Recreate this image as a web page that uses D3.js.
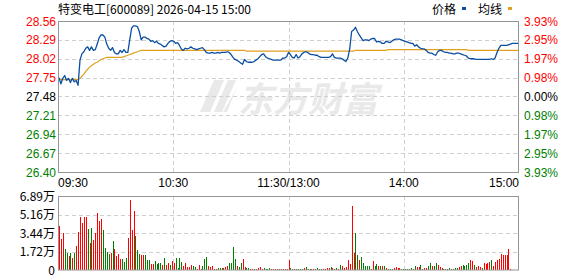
<!DOCTYPE html>
<html>
<head>
<meta charset="utf-8">
<script src="https://cdn.jsdelivr.net/npm/d3@7"></script>
<style>
  body { margin: 0; background: #fff; }
  svg text { font-family: "Liberation Sans", Arial, sans-serif; font-size: 12px; }
  svg text.cjk { font-family: "Noto Sans CJK SC", sans-serif; }
</style>
</head>
<body>
<div class="graphic"></div>
<script>
// minute prices, 09:30 .. 11:30 / 13:00 .. 15:00 (241 points)
var prices = [
  27.75,27.66,27.74,27.78,27.71,27.74,27.68,27.74,27.69,27.71,27.64,
  28.00,28.09,28.12,28.17,28.19,28.14,28.19,28.14,28.15,28.23,
  28.32,28.36,28.36,28.33,28.23,28.17,28.14,28.18,28.11,28.09,
  28.09,28.14,28.11,28.15,28.11,28.11,28.29,28.46,28.49,28.49,
  28.48,28.41,28.29,28.33,28.33,28.31,28.30,28.27,28.28,28.25,
  28.27,28.24,28.23,28.21,28.19,28.20,28.24,28.27,28.28,28.27,
  28.24,28.25,28.21,28.16,28.14,28.17,28.16,28.17,28.19,28.17,
  28.16,28.15,28.16,28.17,28.18,28.15,28.11,28.10,28.10,28.11,
  28.10,28.10,28.11,28.10,28.11,28.11,28.11,28.12,28.11,28.08,
  28.04,28.01,28.00,27.98,27.96,27.94,28.01,27.98,27.97,27.97,
  27.97,27.98,28.00,28.02,28.05,28.08,28.09,28.05,28.03,28.02,
  28.01,28.00,28.00,28.00,28.00,28.00,28.03,28.03,28.05,28.11,
  28.08,28.04,28.03,28.08,28.03,28.05,28.09,28.11,28.12,28.11,
  28.09,28.08,28.08,28.07,28.07,28.05,28.04,28.04,28.04,28.04,
  28.04,28.05,28.09,28.04,28.03,28.03,28.03,28.02,28.00,27.98,
  28.03,28.16,28.41,28.43,28.47,28.41,28.36,28.32,28.28,28.29,
  28.29,28.28,28.30,28.31,28.31,28.26,28.27,28.26,28.24,28.24,
  28.27,28.26,28.25,28.27,28.29,28.30,28.30,28.30,28.29,28.28,
  28.27,28.26,28.25,28.24,28.24,28.20,28.22,28.19,28.17,28.16,
  28.16,28.14,28.11,28.10,28.10,28.08,28.07,28.12,28.14,28.14,
  28.12,28.11,28.11,28.10,28.10,28.09,28.09,28.10,28.10,28.09,
  28.08,28.07,28.06,28.03,28.02,28.02,28.02,28.01,28.01,28.01,
  28.01,28.01,28.01,28.01,28.01,28.02,28.01,28.03,28.11,28.17,
  28.21,28.21,28.21,28.21,28.22,28.23,28.24,28.24,28.24,28.24
];

// 均线 (average price) per minute
var avgPrices = [
  27.72,27.72,27.72,27.72,27.72,27.72,27.72,27.72,27.72,27.72,27.72,
  27.74,27.77,27.80,27.84,27.87,27.90,27.92,27.94,27.96,27.97,
  27.99,28.01,28.02,28.03,28.04,28.04,28.04,28.04,28.04,28.04,
  28.04,28.04,28.04,28.05,28.06,28.07,28.08,28.09,28.10,28.11,
  28.12,28.13,28.14,28.14,28.14,28.14,28.14,28.14,28.14,28.14,
  28.14,28.14,28.14,28.14,28.14,28.14,28.14,28.14,28.14,28.14,
  28.14,28.14,28.14,28.14,28.14,28.14,28.14,28.14,28.14,28.14,
  28.14,28.14,28.14,28.14,28.14,28.14,28.14,28.14,28.14,28.14,
  28.14,28.14,28.14,28.14,28.14,28.14,28.14,28.14,28.14,28.14,
  28.14,28.14,28.14,28.14,28.14,28.14,28.14,28.13,28.13,28.13,
  28.13,28.13,28.13,28.13,28.13,28.13,28.13,28.13,28.13,28.13,
  28.13,28.13,28.13,28.13,28.13,28.13,28.13,28.13,28.13,28.13,
  28.13,28.13,28.13,28.13,28.13,28.13,28.13,28.13,28.13,28.13,
  28.13,28.13,28.13,28.13,28.13,28.13,28.13,28.13,28.13,28.13,
  28.13,28.13,28.13,28.13,28.13,28.13,28.13,28.13,28.13,28.13,
  28.13,28.13,28.13,28.13,28.14,28.14,28.14,28.14,28.14,28.14,
  28.14,28.14,28.14,28.14,28.14,28.14,28.14,28.14,28.14,28.14,
  28.14,28.15,28.15,28.15,28.15,28.15,28.15,28.15,28.15,28.15,
  28.15,28.15,28.15,28.15,28.15,28.15,28.15,28.15,28.15,28.15,
  28.15,28.15,28.15,28.15,28.15,28.15,28.15,28.15,28.15,28.15,
  28.15,28.15,28.15,28.15,28.15,28.15,28.15,28.15,28.15,28.15,
  28.15,28.15,28.15,28.14,28.14,28.14,28.14,28.14,28.14,28.14,
  28.14,28.14,28.14,28.14,28.14,28.14,28.14,28.14,28.14,28.14,
  28.14,28.14,28.14,28.14,28.14,28.14,28.14,28.14,28.14,28.14
];

// volume per minute, in 万股
var volumes = [
  4.14,2.87,3.44,1.91,1.62,1.27,1.59,1.15,1.62,2.23,
  3.57,4.90,4.40,4.90,4.90,3.82,2.48,3.92,2.80,3.44,
  5.35,4.59,4.78,3.76,2.01,1.72,1.47,1.62,2.68,1.91,
  1.34,1.47,1.02,1.02,0.70,1.15,2.99,6.50,3.76,5.45,
  3.19,1.85,1.47,1.37,1.37,1.37,0.89,0.96,0.57,0.57,
  0.86,0.57,0.67,0.67,0.51,1.15,0.45,0.67,0.45,0.86,
  0.67,1.15,0.19,1.15,0.76,0.38,0.67,0.32,0.32,0.48,
  0.38,0.25,0.13,0.51,0.10,0.38,1.05,1.24,0.38,0.32,
  0.38,0.13,0.13,0.19,0.19,0.19,0.16,0.25,0.38,0.67,
  0.67,2.10,1.05,0.38,0.25,0.67,1.05,0.25,0.19,0.19,
  0.10,0.10,0.10,0.10,0.19,0.29,0.10,0.19,0.10,0.10,
  0.19,0.10,0.10,0.10,0.10,0.10,0.10,0.10,0.10,0.10,
  0.96,0.19,0.10,0.10,0.10,0.10,0.10,0.10,0.19,0.29,
  0.10,0.10,0.10,0.10,0.10,0.19,0.10,0.10,0.10,0.10,
  0.19,0.19,0.29,0.19,0.10,0.19,0.10,0.48,0.38,0.19,
  0.29,0.96,0.57,5.92,1.62,3.44,1.43,0.96,1.24,0.67,
  0.38,0.38,0.38,0.13,0.86,0.38,0.57,0.38,0.38,0.38,
  0.38,0.19,0.10,0.10,0.10,0.19,0.29,0.19,0.19,0.10,
  0.10,0.10,0.10,0.10,0.19,0.10,0.38,0.29,0.29,0.48,
  0.10,0.19,0.19,0.38,0.67,0.38,0.38,0.67,0.48,0.29,
  0.19,0.10,0.10,0.10,0.19,0.10,0.10,0.19,0.19,0.29,
  0.38,0.48,0.38,0.48,0.67,0.96,0.86,0.48,0.29,0.38,
  0.29,0.19,0.67,0.57,0.67,0.76,0.96,0.38,0.76,0.96,
  1.05,1.53,1.37,1.43,1.43,1.91,0.10,0,0,0,
  2.80
];

// 1 = up minute (red), 0 = down minute (green)
var volUp = [
  1,1,1,0,0,1,0,1,0,1, 1,1,1,1,1,0,1,0,1,1,
  1,1,1,0,0,0,0,1,0,1, 1,1,1,0,0,0,1,1,1,1,
  0,0,0,1,1,0,0,0,1,1, 0,0,0,0,1,0,1,1,0,1,
  1,0,0,0,0,1,1,1,1,1, 0,0,1,1,1,0,0,0,1,1,
  1,1,1,0,0,0,1,1,1,0, 0,0,0,1,0,0,1,1,0,0,
  1,1,0,1,1,1,1,0,0,0, 0,1,1,1,0,1,1,0,1,1,
  1,0,0,1,0,0,0,0,1,0, 0,1,0,1,1,0,0,0,1,1,
  1,1,0,1,0,0,1,0,1,1, 1,1,1,1,1,0,0,1,0,0,
  0,0,0,1,1,0,0,1,0,1, 0,1,0,0,1,1,1,1,1,0,
  0,0,0,0,0,1,0,1,1,0, 1,1,1,0,0,1,0,0,1,1,
  1,0,0,0,0,1,0,0,0,1, 1,0,0,0,0,1,1,0,1,1,
  1,0,1,1,1,1,0,1,1,1, 1,1,1,1,1,1,1,1,1,1,
  1
];

var prevClose = 27.48;
var priceTicks = [28.56, 28.29, 28.02, 27.75, 27.48, 27.21, 26.94, 26.67, 26.40];
var pctTicks = ["3.93%", "2.95%", "1.97%", "0.98%", "0.00%", "0.98%", "1.97%", "2.95%", "3.93%"];
var volTicks = [6.89, 5.16, 3.44, 1.72, 0];
var volTickLabels = ["6.89万", "5.16万", "3.44万", "1.72万", "0"];
var timeTicks = [0, 60, 120, 180, 240];
var timeLabels = ["09:30", "10:30", "11:30/13:00", "14:00", "15:00"];

var RED = "#ff0000", GREEN = "#008000", GRID = "#cfcfcf", FRAME = "#959595";

var svg = d3.select(".graphic").append("svg")
  .attr("width", 578).attr("height", 276);

var left = 58, right = 519;
var gridX = d3.scaleLinear().domain([0, 240]).range([left, right]);
var x = d3.scaleLinear().domain([-0.5, 240.5]).range([left, right]);
var y = d3.scaleLinear().domain([26.40, 28.56]).range([172, 21]);
var vy = d3.scaleLinear().domain([0, 6.89]).range([270, 196]);

function tickColor(p) {
  if (p > prevClose) return RED;
  if (p < prevClose) return GREEN;
  return "#000";
}

// header
svg.append("text").attr("class", "cjk")
  .attr("x", 58).attr("y", 14)
  .attr("fill", "#000")
  .text("特变电工[600089] 2026-04-15 15:00");

var legend = [
  { label: "价格", x: 432, color: "#0b4fa3" },
  { label: "均线", x: 478, color: "#e0a020" }
];
legend.forEach(function(d) {
  svg.append("text").attr("class", "cjk")
    .attr("x", d.x).attr("y", 14).attr("fill", "#000").text(d.label);
  svg.append("rect").attr("x", d.x + 30).attr("y", 7)
    .attr("width", 4).attr("height", 3).attr("fill", d.color);
});

// watermark
var wm = svg.append("g").attr("fill", "#e9e9e9");
wm.append("path")
  .attr("d", "M214,80 L224,80 L210,112 L200,112 Z M228,80 L236,80 L222,112 L214,112 Z M238,86 L235,92 L227,112 L223,112 Z");
wm.append("text").attr("class", "cjk")
  .attr("x", 238).attr("y", 112)
  .style("font-size", "35px").style("font-weight", "bold").style("font-style", "italic")
  .text("东方财富");

// price panel grid
var pg = svg.append("g");
pg.selectAll("line.h").data(priceTicks.slice(1, -1)).enter().append("line")
  .attr("x1", left).attr("x2", right)
  .attr("y1", function(d) { return Math.round(y(d)) + 0.5; })
  .attr("y2", function(d) { return Math.round(y(d)) + 0.5; })
  .attr("stroke", GRID).attr("stroke-dasharray", "4,3");
pg.selectAll("line.v").data(timeTicks.slice(1, -1)).enter().append("line")
  .attr("x1", function(d) { return Math.round(gridX(d)) + 0.5; })
  .attr("x2", function(d) { return Math.round(gridX(d)) + 0.5; })
  .attr("y1", 21).attr("y2", 172)
  .attr("stroke", GRID).attr("stroke-dasharray", "4,3");

// avg line & price line
svg.append("path").datum(avgPrices)
  .attr("fill", "none").attr("stroke", "#e0a020").attr("stroke-width", 1.2)
  .attr("d", d3.line().x(function(d, i) { return x(i); }).y(function(d) { return y(d); }));
svg.append("path").datum(prices)
  .attr("fill", "none").attr("stroke", "#0b4fa3").attr("stroke-width", 1.3)
  .attr("stroke-linejoin", "round")
  .attr("d", d3.line().x(function(d, i) { return x(i); }).y(function(d) { return y(d); }));

svg.append("rect").attr("x", left + 0.5).attr("y", 21.5)
  .attr("width", right - left - 1).attr("height", 151)
  .attr("fill", "none").attr("stroke", FRAME);

// price axis labels
svg.selectAll("text.pl").data(priceTicks).enter().append("text")
  .attr("x", 56).attr("y", function(d) { return y(d) + 4.5; })
  .attr("text-anchor", "end")
  .attr("fill", tickColor)
  .text(function(d) { return d.toFixed(2); });
svg.selectAll("text.pr").data(pctTicks).enter().append("text")
  .attr("x", 524).attr("y", function(d, i) { return y(priceTicks[i]) + 4.5; })
  .attr("fill", function(d, i) { return tickColor(priceTicks[i]); })
  .text(function(d) { return d; });

// time labels
svg.selectAll("text.t").data(timeTicks).enter().append("text")
  .attr("x", function(d) { return gridX(d); })
  .attr("y", 187)
  .attr("text-anchor", function(d, i) { return i === 0 ? "start" : i === timeTicks.length - 1 ? "end" : "middle"; })
  .attr("fill", "#000")
  .text(function(d, i) { return timeLabels[i]; });

// volume panel
var vg = svg.append("g");
vg.selectAll("line.h").data(volTicks.slice(1, -1)).enter().append("line")
  .attr("x1", left).attr("x2", right)
  .attr("y1", function(d) { return Math.round(vy(d)) + 0.5; })
  .attr("y2", function(d) { return Math.round(vy(d)) + 0.5; })
  .attr("stroke", GRID).attr("stroke-dasharray", "4,3");
vg.selectAll("line.v").data(timeTicks.slice(1, -1)).enter().append("line")
  .attr("x1", function(d) { return Math.round(gridX(d)) + 0.5; })
  .attr("x2", function(d) { return Math.round(gridX(d)) + 0.5; })
  .attr("y1", 196).attr("y2", 270)
  .attr("stroke", GRID).attr("stroke-dasharray", "4,3");

vg.selectAll("rect.bar").data(volumes).enter().append("rect")
  .attr("x", function(d, i) { return Math.round(x(i)); })
  .attr("width", 1)
  .attr("y", function(d) { return vy(d); })
  .attr("height", function(d) { return vy(0) - vy(d); })
  .attr("fill", function(d, i) { return volUp[i] ? RED : GREEN; })
  .attr("shape-rendering", "crispEdges");

svg.append("rect").attr("x", left + 0.5).attr("y", 196.5)
  .attr("width", right - left - 1).attr("height", 73.5)
  .attr("fill", "none").attr("stroke", FRAME);

svg.selectAll("text.vl").data(volTicks).enter().append("text")
  .attr("class", "cjk")
  .attr("x", 55).attr("y", function(d) { return vy(d) + 4.5; })
  .attr("text-anchor", "end")
  .attr("fill", "#000")
  .text(function(d, i) { return volTickLabels[i]; });
</script>
</body>
</html>
